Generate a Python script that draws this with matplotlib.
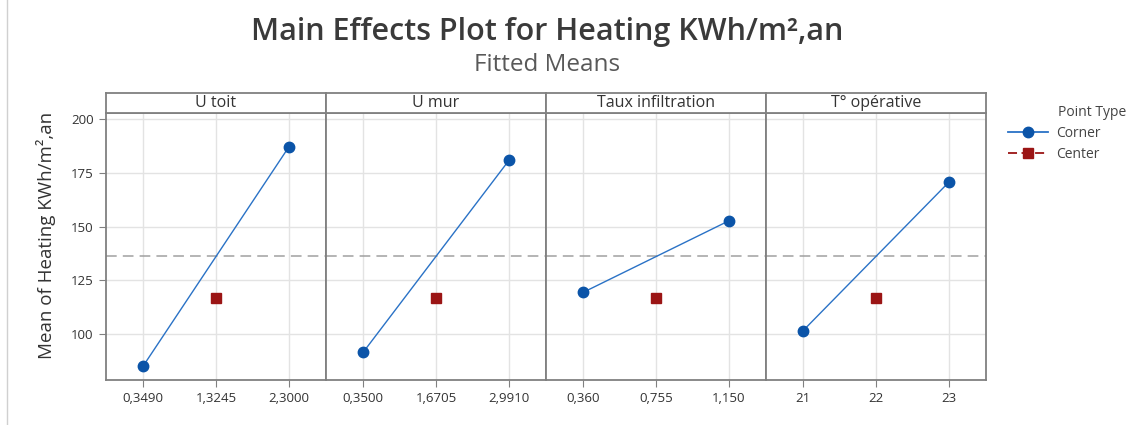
import matplotlib
matplotlib.use("Agg")
import matplotlib.pyplot as plt
from matplotlib.lines import Line2D

plt.rcParams['font.family'] = ['Open Sans', 'DejaVu Sans']

# factor levels (low, center, high) and fitted means
factors = ["U toit", "U mur", "Taux infiltration", "T° opérative"]
levels = [
    [0.3490, 1.3245, 2.3000],
    [0.3500, 1.6705, 2.9910],
    [0.360, 0.755, 1.150],
    [21, 22, 23],
]
level_labels = [
    ["0,3490", "1,3245", "2,3000"],
    ["0,3500", "1,6705", "2,9910"],
    ["0,360", "0,755", "1,150"],
    ["21", "22", "23"],
]
corner_means = [
    [85.1, 187.1],
    [91.5, 180.8],
    [119.4, 152.7],
    [101.6, 170.7],
]
center_means = [116.6, 116.6, 116.6, 116.6]
overall_mean = 136.1
yticks = [100, 125, 150, 175, 200]

blue = "#0b54a8"
line_blue = "#2a72c6"
red = "#9b1515"
frame = "#808080"
grid = "#e3e3e3"
txt = "#333333"

W, H = 1135, 425
fig = plt.figure(figsize=(W / 100, H / 100), dpi=100)

left, pw = 106, 220
top_plot, bottom_plot, top_strip = 113, 380, 93

def fx(px):
    return px / W

def fy(py):
    return 1 - py / H

for i, name in enumerate(factors):
    x0 = left + i * pw
    ax = fig.add_axes([fx(x0), fy(bottom_plot), fx(pw), (bottom_plot - top_plot) / H])
    lo, mid, hi = levels[i]
    span = hi - lo
    ax.set_xlim(lo - 0.255 * span, hi + 0.255 * span)
    ax.set_ylim(78.6, 202.9)
    ax.set_xticks(levels[i])
    ax.set_xticklabels(level_labels[i], fontsize=9.5, color=txt)
    ax.set_yticks(yticks)
    if i == 0:
        ax.set_yticklabels([str(t) for t in yticks], fontsize=9.5, color=txt)
        ax.set_ylabel("Mean of Heating KWh/m²,an", fontsize=13.5, color=txt)
        ax.yaxis.set_label_coords(-0.225, 0.54)
    else:
        ax.tick_params(axis="y", left=False, labelleft=False)
    ax.tick_params(axis="both", length=5, color=frame, width=0.8, pad=4)
    ax.grid(True, color=grid, linewidth=1.0)
    ax.set_axisbelow(True)
    for s in ax.spines.values():
        s.set_color(frame)
        s.set_linewidth(1.3)

    ax.axhline(overall_mean, color="#a0a0a0", linestyle=(0, (7, 4)), linewidth=1.1, zorder=1)
    ax.plot([lo, hi], corner_means[i], color=line_blue, linewidth=1.0, zorder=3)
    ax.plot([lo, hi], corner_means[i], linestyle="none", marker="o", markersize=7.5,
            color=blue, zorder=4)
    ax.plot([mid], [center_means[i]], linestyle="none", marker="s", markersize=6.5,
            color=red, zorder=4)

    # facet header
    sax = fig.add_axes([fx(x0), fy(top_plot), fx(pw), (top_plot - top_strip) / H])
    sax.set_xticks([])
    sax.set_yticks([])
    for s in sax.spines.values():
        s.set_color(frame)
        s.set_linewidth(1.3)
    sax.text(0.5, 0.48, name, ha="center", va="center", fontsize=11.5,
             color=txt, transform=sax.transAxes)

fig.text(fx(547), fy(32), "Main Effects Plot for Heating KWh/m²,an", ha="center",
         va="center", fontsize=22, color="#3a3a3a", fontweight="semibold")
fig.text(fx(547), fy(65), "Fitted Means", ha="center", va="center",
         fontsize=17.5, color="#595959")

# legend, title placed over the label column
handles = [
    Line2D([], [], color=line_blue, marker="o", markersize=7.5, markerfacecolor=blue,
           markeredgecolor=blue, linewidth=1.3),
    Line2D([], [], color=red, marker="s", markersize=6.5, linestyle=(0, (5, 2.5)),
           linewidth=1.3),
]
fig.legend(handles, ["Corner", "Center"], loc="upper left",
           bbox_to_anchor=(fx(1008), fy(126)), frameon=False, fontsize=10,
           handlelength=2.9, handletextpad=0.6, borderpad=0, borderaxespad=0,
           labelspacing=0.45, labelcolor="#444444")
fig.text(fx(1058), fy(112), "Point Type", ha="left", va="center", fontsize=10,
         color="#444444")

# left border of the page
fig.add_artist(Line2D([fx(7), fx(7)], [0, 1], color="#d0d0d0", linewidth=1.0))

fig.savefig("out.png", dpi=100)
